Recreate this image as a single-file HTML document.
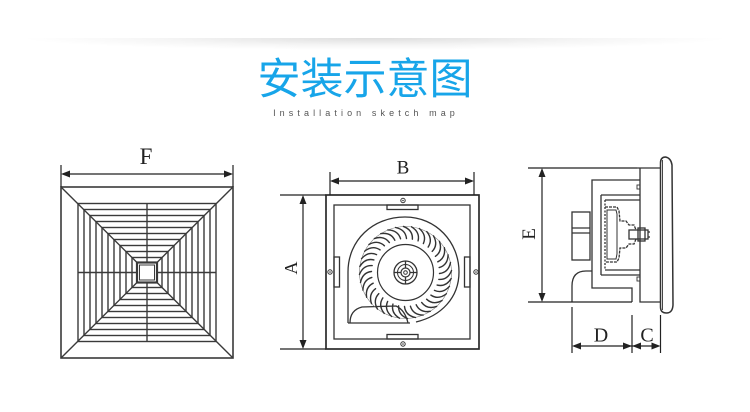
<!DOCTYPE html>
<html><head><meta charset="utf-8">
<style>
html,body{margin:0;padding:0;background:#fff;}
body{width:750px;height:412px;position:relative;overflow:hidden;}
.shadow{position:absolute;left:20px;top:38px;width:710px;height:12px;
background:radial-gradient(ellipse 50% 100% at 50% 0%, rgba(0,0,0,0.13), rgba(0,0,0,0.04) 60%, rgba(0,0,0,0) 100%);}
.title{position:absolute;left:-10px;width:750px;top:52px;text-align:center;
font-family:"Liberation Sans","Noto Sans CJK SC",sans-serif;font-size:43px;line-height:56px;color:#17a5e9;}
.sub{position:absolute;left:-11px;width:750px;top:107px;text-align:center;padding-left:4px;box-sizing:border-box;
font-family:"Liberation Sans",sans-serif;font-size:9px;line-height:12px;letter-spacing:4.1px;color:#555;}
svg{position:absolute;left:0;top:0;}
</style></head><body>
<div class="shadow"></div>
<div class="title">安装示意图</div>
<div class="sub">Installation sketch map</div>
<svg width="750" height="412" viewBox="0 0 750 412">
<defs>
<path id="bl" d="M439,273 Q448,272 450,262" fill="none" stroke="#333" stroke-width="1.4" stroke-linecap="round"/>
</defs>
<!-- ===== Grille (F) ===== -->
<g fill="none" stroke="#3a3a3a" stroke-width="1.4">
<rect x="61" y="187" width="172" height="171" stroke-width="1.6"/>
<rect x="78" y="203.5" width="138" height="138"/>
<rect x="84" y="209.5" width="126" height="126"/>
<rect x="90" y="215.5" width="114" height="114"/>
<rect x="96" y="221.5" width="102" height="102"/>
<rect x="102" y="227.5" width="90" height="90"/>
<rect x="108" y="233.5" width="78" height="78"/>
<rect x="114" y="239.5" width="66" height="66"/>
<rect x="120" y="245.5" width="54" height="54"/>
<rect x="126" y="251.5" width="42" height="42"/>
<rect x="132" y="257.5" width="30" height="30"/>
<rect x="137" y="262.5" width="20" height="20" stroke-width="2.2"/>
<rect x="139.5" y="265" width="15" height="15" stroke-width="1"/>
<line x1="61" y1="187" x2="137" y2="262.5"/>
<line x1="233" y1="187" x2="157" y2="262.5"/>
<line x1="61" y1="358" x2="137" y2="282.5"/>
<line x1="233" y1="358" x2="157" y2="282.5"/>
<line x1="147" y1="203.5" x2="147" y2="262.5"/>
<line x1="147" y1="282.5" x2="147" y2="341.5"/>
<line x1="78" y1="272.5" x2="137" y2="272.5"/>
<line x1="157" y1="272.5" x2="216" y2="272.5"/>
</g>
<!-- F dimension -->
<g stroke="#222" stroke-width="1.2" fill="#222">
<line x1="61" y1="165" x2="61" y2="187"/>
<line x1="233" y1="165" x2="233" y2="187"/>
<line x1="63" y1="174" x2="231" y2="174"/>
<polygon points="61,174 70,170.5 70,177.5" stroke="none"/>
<polygon points="233,174 224,170.5 224,177.5" stroke="none"/>
</g>
<text x="146" y="164" font-family="Liberation Serif, serif" font-size="23" text-anchor="middle" fill="#222">F</text>

<!-- ===== Middle view (A,B) ===== -->
<g fill="none" stroke="#333" stroke-width="1.3">
<rect x="326" y="195" width="153" height="154" stroke-width="1.7" stroke="#2a2a2a"/>
<rect x="334" y="205" width="136" height="134"/>
<!-- tabs -->
<rect x="387" y="205" width="31" height="4.5"/>
<rect x="387" y="334.5" width="31" height="4.5"/>
<rect x="334" y="257" width="5.5" height="30"/>
<rect x="464.5" y="257" width="5.5" height="30"/>
<!-- housing -->
<path d="M348,323 L348,272 C348,240 373,217 405,217 C436,217 459,242 459,272 C459,298 441,316 416,322"/>
<path d="M348,323 L410,323"/>
<path d="M350,323 Q350,310 362,307 L396,306 Q405,310 408,323"/>
<!-- wheel -->
<circle cx="405.5" cy="272.5" r="46" stroke-width="0.6" stroke="#777"/>
<circle cx="405.5" cy="272.5" r="28" stroke-width="1.2"/>
<circle cx="405.5" cy="272.5" r="11.5" stroke-width="1.3"/>
<circle cx="405.5" cy="272.5" r="8" stroke-width="1"/>
<circle cx="405.5" cy="272.5" r="4.5" stroke-width="1.2"/>
<circle cx="405.5" cy="272.5" r="1.8" stroke-width="1"/>
<line x1="405.5" y1="261" x2="405.5" y2="268"/>
<line x1="405.5" y1="277" x2="405.5" y2="284"/>
<line x1="394" y1="272.5" x2="401" y2="272.5"/>
<line x1="410" y1="272.5" x2="417" y2="272.5"/>
</g>
<g transform="translate(0.5,0.5)">
<use href="#bl"/>
<use href="#bl" transform="rotate(10 405 272)"/>
<use href="#bl" transform="rotate(20 405 272)"/>
<use href="#bl" transform="rotate(30 405 272)"/>
<use href="#bl" transform="rotate(40 405 272)"/>
<use href="#bl" transform="rotate(50 405 272)"/>
<use href="#bl" transform="rotate(60 405 272)"/>
<use href="#bl" transform="rotate(70 405 272)"/>
<use href="#bl" transform="rotate(80 405 272)"/>
<use href="#bl" transform="rotate(90 405 272)"/>
<use href="#bl" transform="rotate(100 405 272)"/>
<use href="#bl" transform="rotate(110 405 272)"/>
<use href="#bl" transform="rotate(120 405 272)"/>
<use href="#bl" transform="rotate(130 405 272)"/>
<use href="#bl" transform="rotate(140 405 272)"/>
<use href="#bl" transform="rotate(150 405 272)"/>
<use href="#bl" transform="rotate(160 405 272)"/>
<use href="#bl" transform="rotate(170 405 272)"/>
<use href="#bl" transform="rotate(180 405 272)"/>
<use href="#bl" transform="rotate(190 405 272)"/>
<use href="#bl" transform="rotate(200 405 272)"/>
<use href="#bl" transform="rotate(210 405 272)"/>
<use href="#bl" transform="rotate(220 405 272)"/>
<use href="#bl" transform="rotate(230 405 272)"/>
<use href="#bl" transform="rotate(240 405 272)"/>
<use href="#bl" transform="rotate(250 405 272)"/>
<use href="#bl" transform="rotate(260 405 272)"/>
<use href="#bl" transform="rotate(270 405 272)"/>
<use href="#bl" transform="rotate(280 405 272)"/>
<use href="#bl" transform="rotate(290 405 272)"/>
<use href="#bl" transform="rotate(300 405 272)"/>
<use href="#bl" transform="rotate(310 405 272)"/>
<use href="#bl" transform="rotate(320 405 272)"/>
<use href="#bl" transform="rotate(330 405 272)"/>
<use href="#bl" transform="rotate(340 405 272)"/>
<use href="#bl" transform="rotate(350 405 272)"/>
</g>
<!-- screws -->
<g fill="#fff" stroke="#333" stroke-width="1">
<circle cx="403" cy="200.5" r="2.2"/>
<circle cx="403" cy="344" r="2.2"/>
<circle cx="330" cy="272" r="2.2"/>
<circle cx="476" cy="272" r="2.2"/>
</g>
<g fill="#333">
<circle cx="403" cy="200.5" r="0.8"/>
<circle cx="403" cy="344" r="0.8"/>
<circle cx="330" cy="272" r="0.8"/>
<circle cx="476" cy="272" r="0.8"/>
</g>
<!-- B dimension -->
<g stroke="#222" stroke-width="1.2" fill="#222">
<line x1="330" y1="172" x2="330" y2="195"/>
<line x1="474" y1="172" x2="474" y2="195"/>
<line x1="332" y1="181" x2="472" y2="181"/>
<polygon points="330,181 339,177.5 339,184.5" stroke="none"/>
<polygon points="474,181 465,177.5 465,184.5" stroke="none"/>
<!-- A dimension -->
<line x1="280" y1="195" x2="326" y2="195"/>
<line x1="280" y1="349" x2="326" y2="349"/>
<line x1="303" y1="197" x2="303" y2="347"/>
<polygon points="303,195 299.5,204 306.5,204" stroke="none"/>
<polygon points="303,349 299.5,340 306.5,340" stroke="none"/>
</g>
<text x="403" y="173.5" font-family="Liberation Serif, serif" font-size="19" text-anchor="middle" fill="#222">B</text>
<text x="0" y="0" font-family="Liberation Serif, serif" font-size="18" text-anchor="middle" fill="#222" transform="translate(297,268) rotate(-90)">A</text>

<!-- ===== Side view (E,D,C) ===== -->
<g fill="none" stroke="#333" stroke-width="1.3">
<!-- flange -->
<path d="M660.5,163 Q660.5,157 665.5,157 Q671,158 672,165 L673,305 Q672.5,313 666.5,313 Q660.5,313 660.5,307 Z" stroke-width="1.5"/>
<line x1="662.5" y1="160" x2="662.5" y2="310" stroke-width="0.9"/>
<!-- box -->
<path d="M637,168 L660.5,168 M640,168 L640,302 L660.5,302"/>
<!-- housing -->
<path d="M640,180 L592,180 L592,288 L632,288 L632,302"/>
<!-- duct -->
<path d="M572,302 L572,286 Q572,271 586,271 L592,271"/>
<!-- motor block -->
<rect x="572" y="212" width="18" height="48"/>
<line x1="572" y1="228" x2="590" y2="228"/>
<line x1="572" y1="233" x2="590" y2="233"/>
<!-- bracket -->
<line x1="601" y1="195" x2="601" y2="275"/>
<line x1="605" y1="200" x2="605" y2="270" stroke-dasharray="2 1.5"/>
<line x1="601" y1="195" x2="640" y2="195"/>
<line x1="605" y1="200" x2="640" y2="200"/>
<line x1="605" y1="270" x2="640" y2="270"/>
<line x1="601" y1="275" x2="640" y2="275"/>
<!-- cup -->
<path d="M605,207 L617,207 L619,211 L620,221 L626,221 L629,225 L634,225 L636,230 M636,239 L634,244 L629,244 L626,248 L620,248 L619,258 L617,262 L605,262" stroke-dasharray="3 1"/>
<path d="M607,210 L616,210 L617,214 L617,254 L616,259 L607,259 Z" stroke-width="1"/>
<!-- shaft -->
<rect x="629" y="230" width="19" height="9"/>
<rect x="638" y="228" width="7" height="13"/>
<line x1="648" y1="232" x2="650" y2="232"/>
<line x1="648" y1="237" x2="650" y2="237"/>
<!-- small marks -->
<rect x="637" y="185" width="3" height="4" stroke-width="0.9"/>
<rect x="637" y="277" width="3" height="4" stroke-width="0.9"/>
</g>
<g stroke="#222" stroke-width="1.2" fill="#222">
<!-- E dimension -->
<line x1="528" y1="168" x2="637" y2="168"/>
<line x1="528" y1="302" x2="632" y2="302"/>
<line x1="542" y1="170" x2="542" y2="300"/>
<polygon points="542,168 538.5,177 545.5,177" stroke="none"/>
<polygon points="542,302 538.5,293 545.5,293" stroke="none"/>
<!-- D C extension -->
<line x1="572" y1="307" x2="572" y2="353"/>
<line x1="632" y1="315" x2="632" y2="353"/>
<line x1="660.5" y1="315" x2="660.5" y2="353"/>
<line x1="574" y1="346" x2="658" y2="346"/>
<polygon points="572,346 581,342.5 581,349.5" stroke="none"/>
<polygon points="632,346 623,342.5 623,349.5" stroke="none"/>
<polygon points="632,346 641,342.5 641,349.5" stroke="none"/>
<polygon points="660.5,346 651.5,342.5 651.5,349.5" stroke="none"/>
</g>
<text x="0" y="0" font-family="Liberation Serif, serif" font-size="19" text-anchor="middle" fill="#222" transform="translate(535,234) rotate(-90)">E</text>
<text x="601" y="341.5" font-family="Liberation Serif, serif" font-size="20" text-anchor="middle" fill="#222">D</text>
<text x="647" y="341.5" font-family="Liberation Serif, serif" font-size="20" text-anchor="middle" fill="#222">C</text>
</svg>
</body></html>
